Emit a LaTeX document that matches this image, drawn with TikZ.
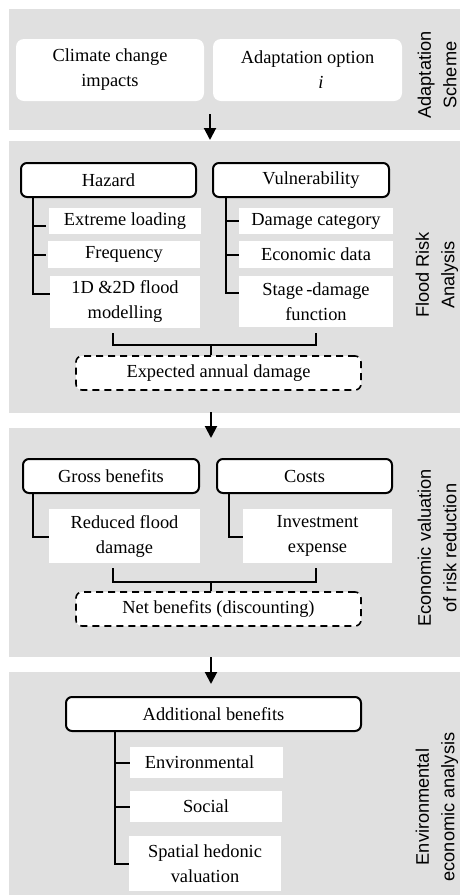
\documentclass[tikz,border=0pt]{standalone}
\usepackage{fontspec}
\setmainfont{Liberation Serif}
\setsansfont{Liberation Sans}
\usetikzlibrary{arrows.meta}
\definecolor{panelgray}{RGB}{224,224,224}
\tikzset{
  panel/.style={fill=panelgray, draw=none},
  whitebox/.style={fill=white, draw=none, rounded corners=8pt, inner sep=0pt, align=center,
    font=\fontsize{18.4}{25}\selectfont},
  headbox/.style={fill=white, draw=black, line width=2pt, rounded corners=6pt, inner sep=0pt,
    align=center, font=\fontsize{18.4}{25}\selectfont},
  resultbox/.style={fill=white, draw=black, line width=1.6pt, dash pattern=on 7pt off 5pt,
    rounded corners=6pt, inner sep=0pt, align=center, font=\fontsize{18.4}{25}\selectfont},
  itembox/.style={fill=white, draw=none, inner sep=0pt, align=center,
    font=\fontsize{18.4}{25}\selectfont},
  sidelabel/.style={rotate=90, align=center, font=\sffamily\fontsize{18.2}{25.5}\selectfont},
  tree/.style={draw=black, line width=2pt},
  flow/.style={draw=black, line width=2pt, -{Triangle[width=12pt,length=12pt]}}
}
\begin{document}
\begin{tikzpicture}[x=1pt, y=-1pt]
\useasboundingbox (0,0) rectangle (460,895);
% panels
\fill[panel] (9,9) rectangle (460,130);
\fill[panel] (9,141) rectangle (460,413);
\fill[panel] (9,428) rectangle (460,657);
\fill[panel] (9,672) rectangle (460,895);

% side labels
\node[sidelabel] (lab1) at (437,75) {Adaptation\\Scheme};
\node[sidelabel] (lab2) at (437,275) {Flood Risk\\Analysis};
\node[sidelabel] (lab3) at (437,548) {Economic valuation\\of risk reduction};
\node[sidelabel] (lab4) at (437,807) {Environmental\\economic analysis};

% panel 1
\node[whitebox, minimum width=188pt, minimum height=62pt] (clim) at (110,70) {Climate change\\impacts};
\node[whitebox, minimum width=189pt, minimum height=62pt] (adapt) at (307.5,70) {Adaptation option\\\hspace*{27pt}\textit{i}};

% panel 2
\node[headbox, minimum width=175pt, minimum height=34pt] (haz) at (108.5,180) {Hazard};
\node[headbox, minimum width=176pt, minimum height=34pt] (vul) at (301,180) {\hspace*{20pt}Vulnerability};
\node[itembox, minimum width=152pt, minimum height=26pt] (ext) at (125,221) {Extreme loading};
\node[itembox, minimum width=152pt, minimum height=27pt] (freq) at (124,254.5) {Frequency};
\node[itembox, minimum width=150pt, minimum height=52pt] (flood) at (125,302) {1D \&2D flood\\modelling};
\node[itembox, minimum width=154pt, minimum height=26pt] (dam) at (316,221) {Damage category};
\node[itembox, minimum width=154pt, minimum height=27pt] (econ) at (316,254.5) {Economic data};
\node[itembox, minimum width=154pt, minimum height=51pt] (stage) at (316,301.5) {Stage\,-damage\\function};
\node[resultbox, minimum width=285pt, minimum height=34pt] (ead) at (218.5,373) {Expected annual damage};

\draw[tree] ([xshift=13pt]haz.south west) |- ([yshift=8pt]flood.west);
\draw[tree] ([xshift=13pt]haz.south west |- ext.west) ++(0,5) -- ++(13,0);
\draw[tree] ([xshift=13pt]haz.south west |- freq.west) -- ++(13,0);
\draw[tree] ([xshift=14pt]vul.south west) |- ([yshift=8.5pt]stage.west);
\draw[tree] ([xshift=14pt]vul.south west |- dam.west) -- (dam.west);
\draw[tree] ([xshift=14pt]vul.south west |- econ.west) -- (econ.west);

\coordinate (j1) at (211,345);
\draw[tree, line join=miter] ([xshift=-12pt,yshift=-5pt]flood.south) |- (j1) -| ([yshift=-6pt]stage.south);
\draw[tree] (j1) -- (j1 |- ead.north);

% panel 3
\node[headbox, minimum width=176pt, minimum height=34pt] (gross) at (111,476) {Gross benefits};
\node[headbox, minimum width=175pt, minimum height=34pt] (cost) at (304.5,476) {Costs};
\node[itembox, minimum width=151pt, minimum height=54pt] (red) at (124.5,536) {Reduced flood\\damage};
\node[itembox, minimum width=149pt, minimum height=54pt] (inv) at (317.5,536) {Investment\\expense};
\node[resultbox, minimum width=285pt, minimum height=34pt] (net) at (218.5,609) {Net benefits (discounting)};

\draw[tree] ([xshift=11pt]gross.south west) |- ([yshift=-1pt]red.west);
\draw[tree] ([xshift=13pt]cost.south west) |- ([yshift=-1pt]inv.west);
\coordinate (j2) at (211,582);
\draw[tree, line join=miter] ([xshift=-11.5pt,yshift=-5pt]red.south) |- (j2) -| ([xshift=-1.5pt,yshift=-5pt]inv.south);
\draw[tree] (j2) -- (j2 |- net.north);

% panel 4
\node[headbox, minimum width=295pt, minimum height=34pt] (add) at (213.5,714) {Additional benefits};
\node[itembox, minimum width=153pt, minimum height=31pt] (env) at (206.5,762.5) {\hspace*{-14pt}Environmental};
\node[itembox, minimum width=152pt, minimum height=31pt] (soc) at (206,806.5) {Social};
\node[itembox, minimum width=152pt, minimum height=55pt] (spat) at (205,863.5) {Spatial hedonic\\valuation};

\draw[tree] ([xshift=50pt]add.south west) |- (spat.west);
\draw[tree] ([xshift=50pt]add.south west |- env.west) -- (env.west);
\draw[tree] ([xshift=50pt]add.south west |- soc.west) -- (soc.west);

% flow arrows between panels
\coordinate (a1s) at (210,114);
\coordinate (a1e) at (210,140);
\coordinate (a2s) at (211,412);
\coordinate (a2e) at (211,438);
\coordinate (a3s) at (211,657);
\coordinate (a3e) at (211,684);
\draw[flow] (a1s) -- (a1e);
\draw[flow] (a2s) -- (a2e);
\draw[flow] (a3s) -- (a3e);
\end{tikzpicture}
\end{document}
